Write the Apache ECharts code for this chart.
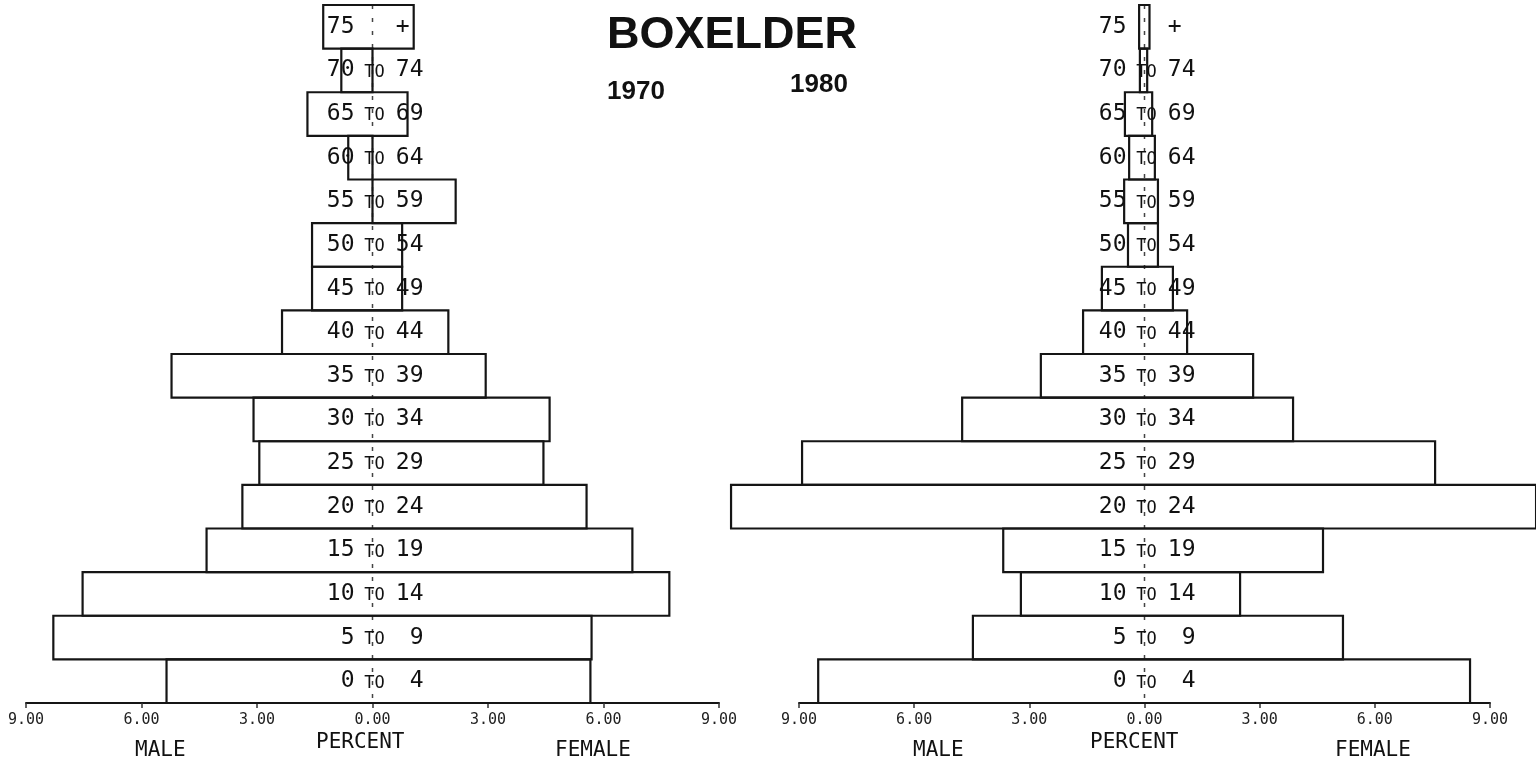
<!DOCTYPE html>
<html>
<head>
<meta charset="utf-8">
<script src="https://cdn.jsdelivr.net/npm/echarts@6/dist/echarts.min.js"></script>
<title>BOXELDER</title>
<style>
  html, body { margin: 0; padding: 0; background: #fff; }
  #chart { width: 1536px; height: 767px; }
</style>
</head>
<body>
<div id="chart"></div>
<script>
// age groups, bottom (0-4) to top (75+)
var ageFrom = ['0', '5', '10', '15', '20', '25', '30', '35', '40', '45', '50', '55', '60', '65', '70', '75'];
var ageTo   = ['4', '9', '14', '19', '24', '29', '34', '39', '44', '49', '54', '59', '64', '69', '74', '+ '];
var ageMid  = ['TO', 'TO', 'TO', 'TO', 'TO', 'TO', 'TO', 'TO', 'TO', 'TO', 'TO', 'TO', 'TO', 'TO', 'TO', ''];

// percent of population, 1970
var male1970   = [5.35, 8.29, 7.53, 4.31, 3.38, 2.94, 3.09, 5.22, 2.35, 1.57, 1.57, 0.00, 0.63, 1.69, 0.81, 1.28];
var female1970 = [5.66, 5.69, 7.71, 6.75, 5.56, 4.44, 4.60, 2.94, 1.97, 0.77, 0.77, 2.16, 0.00, 0.91, 0.00, 1.07];

// percent of population, 1980
var male1980   = [8.50, 4.47, 3.22, 3.68, 10.77, 8.92, 4.75, 2.70, 1.60, 1.11, 0.43, 0.53, 0.40, 0.51, 0.12, 0.14];
var female1980 = [8.48, 5.17, 2.49, 4.65, 10.20, 7.57, 3.87, 2.83, 1.11, 0.74, 0.35, 0.35, 0.27, 0.20, 0.07, 0.13];

function rows(male, female) {
  var out = [];
  for (var i = 0; i < male.length; i++) out.push([i, male[i], female[i]]);
  return out;
}
function labelRows() {
  var out = [];
  for (var i = 0; i < ageFrom.length; i++) out.push([i, ageFrom[i], ageMid[i], ageTo[i]]);
  return out;
}

var lineColor = '#151515';
var mono = '"DejaVu Sans Mono", monospace';

function renderBox(params, api) {
  var i = api.value(0);
  var p1 = api.coord([-api.value(1), i + 1]);
  var p2 = api.coord([api.value(2), i]);
  return {
    type: 'rect',
    shape: { x: p1[0], y: p1[1], width: p2[0] - p1[0], height: p2[1] - p1[1] },
    style: { fill: null, stroke: lineColor, lineWidth: 2.2 }
  };
}

function renderLabel(params, api) {
  var i = api.value(0);
  var c = api.coord([0, i + 0.5]);
  var d = labelRows()[params.dataIndex];
  return {
    type: 'group',
    children: [
      { type: 'text', style: { x: c[0] - 18, y: c[1], text: d[1], textAlign: 'right', textVerticalAlign: 'middle', font: '23px ' + mono, fill: '#111' } },
      { type: 'text', style: { x: c[0] + 2, y: c[1] + 2, text: d[2], textAlign: 'center', textVerticalAlign: 'middle', font: '17px ' + mono, fill: '#111' } },
      { type: 'text', style: { x: c[0] + 51, y: c[1], text: d[3], textAlign: 'right', textVerticalAlign: 'middle', font: '23px ' + mono, fill: '#111' } }
    ]
  };
}

function renderCenter(params, api) {
  var top = api.coord([0, 16]);
  var bot = api.coord([0, 0]);
  return {
    type: 'line',
    shape: { x1: top[0], y1: top[1], x2: bot[0], y2: bot[1] },
    style: { stroke: '#444', lineWidth: 1.5, lineDash: [4, 9] }
  };
}

function xAxisDef(idx) {
  return {
    type: 'value', gridIndex: idx, min: -9, max: 9, interval: 3,
    axisLine: { show: true, onZero: false, lineStyle: { color: lineColor, width: 2 } },
    axisTick: { show: true, length: 5, lineStyle: { color: '#333', width: 1.5 } },
    splitLine: { show: false },
    axisLabel: {
      margin: 10, color: '#222', fontFamily: mono, fontSize: 15,
      formatter: function (v) { return Math.abs(v).toFixed(2); }
    }
  };
}
function yAxisDef(idx) {
  return { type: 'value', gridIndex: idx, min: 0, max: 16, show: false };
}

var chart = echarts.init(document.getElementById('chart'));
chart.setOption({
  animation: false,
  title: {
    text: 'BOXELDER', left: 727, top: 8, textAlign: 'center',
    textStyle: { fontFamily: '"Liberation Sans", Arial, sans-serif', fontWeight: 'bold', fontSize: 45, color: '#111' }
  },
  grid: [
    { left: 26, right: 817, top: 5, bottom: 64 },
    { left: 799, right: 46, top: 5, bottom: 64 }
  ],
  xAxis: [xAxisDef(0), xAxisDef(1)],
  yAxis: [yAxisDef(0), yAxisDef(1)],
  graphic: [
    { type: 'text', left: 607, top: 79, style: { text: '1970', font: 'bold 26px "Liberation Sans", Arial, sans-serif', fill: '#111' } },
    { type: 'text', left: 790, top: 72, style: { text: '1980', font: 'bold 26px "Liberation Sans", Arial, sans-serif', fill: '#111' } },
    { type: 'text', left: 135, top: 740, style: { text: 'MALE', font: '21px ' + mono, fill: '#111' } },
    { type: 'text', left: 316, top: 732, style: { text: 'PERCENT', font: '21px ' + mono, fill: '#111' } },
    { type: 'text', left: 555, top: 740, style: { text: 'FEMALE', font: '21px ' + mono, fill: '#111' } },
    { type: 'text', left: 913, top: 740, style: { text: 'MALE', font: '21px ' + mono, fill: '#111' } },
    { type: 'text', left: 1090, top: 732, style: { text: 'PERCENT', font: '21px ' + mono, fill: '#111' } },
    { type: 'text', left: 1335, top: 740, style: { text: 'FEMALE', font: '21px ' + mono, fill: '#111' } }
  ],
  series: [
    { type: 'custom', xAxisIndex: 0, yAxisIndex: 0, renderItem: renderCenter, data: [[0]] },
    { type: 'custom', xAxisIndex: 1, yAxisIndex: 1, renderItem: renderCenter, data: [[0]] },
    { type: 'custom', name: '1970', xAxisIndex: 0, yAxisIndex: 0, renderItem: renderBox, data: rows(male1970, female1970) },
    { type: 'custom', name: '1980', xAxisIndex: 1, yAxisIndex: 1, renderItem: renderBox, data: rows(male1980, female1980) },
    { type: 'custom', xAxisIndex: 0, yAxisIndex: 0, renderItem: renderLabel, data: labelRows() },
    { type: 'custom', xAxisIndex: 1, yAxisIndex: 1, renderItem: renderLabel, data: labelRows() }
  ]
});
</script>
</body>
</html>
